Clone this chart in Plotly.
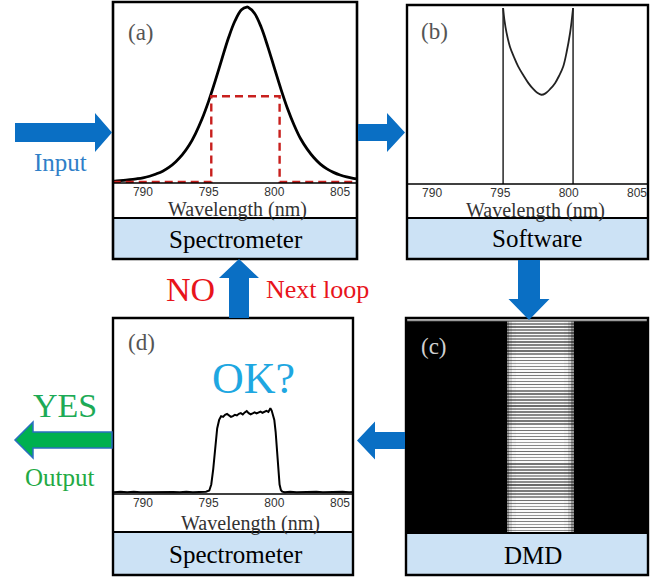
import plotly.graph_objects as go

W, H = 655, 579

# ---------------- data ----------------
tick_vals = [790, 795, 800, 805]
tick_text = ["790", "795", "800", "805"]

# (a) measured input spectrum (normalised)
wl_a = [787.7, 788.0, 788.5, 789.0, 789.5, 790.0, 790.5, 791.0, 791.5, 792.0, 792.5, 793.0,
        793.5, 794.0, 794.5, 795.0, 795.5, 796.0, 796.5, 797.0, 797.5, 797.9, 798.0, 798.5,
        799.0, 799.5, 800.0, 800.5, 801.0, 801.5, 802.0, 802.5, 803.0, 803.5, 804.0, 804.5,
        805.0, 805.5, 806.0, 806.3]
int_a = [0.004, 0.007, 0.009, 0.013, 0.018, 0.024, 0.033, 0.046, 0.062, 0.085, 0.116, 0.156,
         0.208, 0.277, 0.361, 0.462, 0.578, 0.701, 0.821, 0.920, 0.984, 1.0, 0.999, 0.963,
         0.884, 0.774, 0.652, 0.531, 0.420, 0.326, 0.247, 0.188, 0.140, 0.102, 0.075, 0.055,
         0.040, 0.029, 0.021, 0.018]
# (a) target window (dashed)
win_x = [787.7, 795.2, 795.2, 800.4, 800.4, 806.3]
win_y = [0.0, 0.0, 0.49, 0.49, 0.0, 0.0]

# (b) computed DMD transmission
wl_b = [795.2, 795.3, 795.45, 795.7, 796.0, 796.3, 796.7, 797.05, 797.4, 797.7, 798.0,
        798.3, 798.65, 799.0, 799.3, 799.6, 799.85, 800.1, 800.22, 800.32]
tr_b = [1.0, 0.93, 0.86, 0.78, 0.72, 0.668, 0.615, 0.573, 0.54, 0.518, 0.507,
        0.515, 0.54, 0.573, 0.615, 0.668, 0.75, 0.858, 0.93, 1.0]
edge_b = [795.2, 800.32]

# (c) DMD pattern: grey level of the dark lines, white level between them, column profile
dmd_line_gray = [0.55, 0.45, 0.6, 0.5, 0.4, 0.58, 0.52, 0.47, 0.62, 0.5, 0.44, 0.57, 0.53, 0.48,
                 0.6, 0.42, 0.55, 0.5, 0.63, 0.46, 0.52, 0.58, 0.45, 0.5, 0.6, 0.48, 0.43, 0.56,
                 0.52, 0.61, 0.47, 0.5, 0.55, 0.44, 0.59, 0.51, 0.46, 0.6, 0.53, 0.49, 0.57, 0.42,
                 0.55, 0.5, 0.62, 0.47, 0.52, 0.58, 0.45, 0.5, 0.6, 0.48, 0.44, 0.56, 0.53, 0.61,
                 0.46, 0.5, 0.55, 0.43, 0.59, 0.51, 0.47, 0.6, 0.54, 0.49, 0.57, 0.45, 0.55, 0.5]
dmd_white = 0.98
dmd_col_edges = [0, 101, 103, 106, 110, 158, 162, 165, 168, 242]
dmd_col_profile = [0.0, 0.6, 0.85, 0.97, 1.0, 0.97, 0.85, 0.6, 0.0]

# (d) measured shaped spectrum
wl_d = [787.8, 788.3, 788.8, 789.3, 789.8, 790.3, 790.8, 791.3, 791.8, 792.3, 792.8, 793.3,
        793.8, 794.3, 794.8, 795.05, 795.2, 795.35, 795.5, 795.65, 795.8, 795.95, 796.1,
        796.25, 796.4, 796.55, 796.7, 796.85, 797.0, 797.15, 797.3, 797.45, 797.6, 797.75,
        797.9, 798.05, 798.2, 798.35, 798.5, 798.65, 798.8, 798.95, 799.1, 799.25, 799.4,
        799.55, 799.7, 799.8, 799.9, 800.0, 800.1, 800.2, 800.3, 800.4, 800.5, 800.6, 800.8,
        801.2, 801.7, 802.2, 802.7, 803.2, 803.7, 804.2, 804.7, 805.2, 805.7, 806.0]
int_d = [0.005, 0.008, 0.004, 0.007, 0.005, 0.006, 0.004, 0.008, 0.005, 0.006, 0.004, 0.007,
         0.005, 0.006, 0.008, 0.015, 0.05, 0.14, 0.27, 0.38, 0.43, 0.452, 0.448,
         0.46, 0.465, 0.455, 0.448, 0.452, 0.46, 0.456, 0.466, 0.47, 0.462, 0.474,
         0.482, 0.47, 0.463, 0.468, 0.474, 0.468, 0.476, 0.479, 0.472, 0.478, 0.483,
         0.477, 0.498, 0.485, 0.462, 0.43, 0.36, 0.24, 0.12, 0.05, 0.018, 0.008, 0.005,
         0.007, 0.004, 0.006, 0.005, 0.007, 0.004, 0.006, 0.005, 0.007, 0.005, 0.006]

# ---------------- helpers ----------------
def px(x):
    return x / W

def py(y):
    return 1 - y / H

SERIF = "Liberation Serif"
SANS = "Liberation Sans"
BLUE = "#0a6fc4"
BOXFILL = "#cce2f5"

fig = go.Figure()

# (a)
fig.add_trace(go.Scatter(x=wl_a, y=int_a, mode="lines", line=dict(color="black", width=2.8, shape="spline"),
                         xaxis="x", yaxis="y", hoverinfo="skip"))
fig.add_trace(go.Scatter(x=win_x, y=win_y, mode="lines", line=dict(color="#c8201e", width=2.4, dash="8px,5px"),
                         xaxis="x", yaxis="y", hoverinfo="skip"))
# (b)
fig.add_trace(go.Scatter(x=[edge_b[0], edge_b[0], None, edge_b[1], edge_b[1]], y=[0, 1, None, 0, 1],
                         mode="lines", line=dict(color="#333", width=1.6), xaxis="x2", yaxis="y2", hoverinfo="skip"))
fig.add_trace(go.Scatter(x=wl_b, y=tr_b, mode="lines", line=dict(color="#222", width=1.8, shape="spline"),
                         xaxis="x2", yaxis="y2", hoverinfo="skip"))
# (c)
rows = []
for g in dmd_line_gray:
    rows.append(dmd_white)
    rows.append(g)
z = [[r * c for c in dmd_col_profile] for r in rows]
fig.add_trace(go.Heatmap(z=z, x=dmd_col_edges, y=list(range(len(rows) + 1)), showscale=False,
                         colorscale=[[0, "#000000"], [1, "#ffffff"]], zmin=0, zmax=1,
                         xaxis="x3", yaxis="y3", hoverinfo="skip"))
# (d)
fig.add_trace(go.Scatter(x=wl_d, y=int_d, mode="lines", line=dict(color="black", width=2.0),
                         xaxis="x4", yaxis="y4", hoverinfo="skip"))

def xax(domain, rng):
    return dict(domain=[px(domain[0]), px(domain[1])], range=rng, showgrid=False, zeroline=False,
                showline=False, ticks="", tickvals=tick_vals, ticktext=tick_text, ticklabelstandoff=0,
                tickfont=dict(family=SANS, size=12, color="#333"), fixedrange=True)

def yax(domain, rng):
    return dict(domain=[py(domain[1]), py(domain[0])], range=rng, visible=False, fixedrange=True)

layout = dict(
    width=W, height=H, margin=dict(l=0, r=0, t=0, b=0), showlegend=False,
    paper_bgcolor="white", plot_bgcolor="white",
    xaxis=dict(xax((113, 357), [787.72, 806.29]), anchor="y"),
    yaxis=dict(yax((3, 183), [-0.0057, 1.0229]), anchor="x"),
    xaxis2=dict(xax((408, 647), [788.24, 805.73]), anchor="y2"),
    yaxis2=dict(yax((5, 184), [0.0, 1.017]), anchor="x2"),
    xaxis3=dict(domain=[px(407), px(647)], range=[0, 242], visible=False, anchor="y3", fixedrange=True),
    yaxis3=dict(domain=[py(533), py(320)], range=[0, len(rows)], visible=False, anchor="x3", fixedrange=True),
    xaxis4=dict(xax((113, 353), [787.72, 805.99]), anchor="y4"),
    yaxis4=dict(yax((319, 494), [-0.0059, 1.0235]), anchor="x4"),
)
fig.update_layout(**layout)

shapes = []

def rect(x0, y0, x1, y1, fill=None, lw=2.0, color="black"):
    d = dict(type="rect", xref="paper", yref="paper", x0=px(x0), x1=px(x1), y0=py(y1), y1=py(y0),
             line=dict(color=color, width=lw))
    if fill:
        d["fillcolor"] = fill
    shapes.append(d)

def hline(x0, x1, y, lw=1.5, color="black"):
    shapes.append(dict(type="line", xref="paper", yref="paper", x0=px(x0), x1=px(x1), y0=py(y), y1=py(y),
                       line=dict(color=color, width=lw)))

def poly(points, fill, line_color=None, lw=0):
    path = "M " + " L ".join(f"{px(x):.5f},{py(y):.5f}" for x, y in points) + " Z"
    shapes.append(dict(type="path", xref="paper", yref="paper", path=path, fillcolor=fill,
                       line=dict(color=line_color or fill, width=lw)))

def harrow(x_tail, x_base, x_tip, yc, sh, hh, fill, line_color=None, lw=0):
    pts = [(x_tail, yc - sh), (x_base, yc - sh), (x_base, yc - hh), (x_tip, yc), (x_base, yc + hh),
           (x_base, yc + sh), (x_tail, yc + sh)]
    poly(pts, fill, line_color, lw)

def varrow(y_tail, y_base, y_tip, xc, sh, hh, fill):
    pts = [(xc - sh, y_tail), (xc - sh, y_base), (xc - hh, y_base), (xc, y_tip), (xc + hh, y_base),
           (xc + sh, y_base), (xc + sh, y_tail)]
    poly(pts, fill)

# panel (a)
hline(113, 357, 183, 1.5)
rect(113, 218, 357, 259, fill=BOXFILL, lw=2)
rect(113, 2, 357, 259, lw=2.6)
# panel (b)
hline(408, 647, 184, 1.5)
rect(407, 218, 648, 259, fill=BOXFILL, lw=2)
rect(407, 5, 648, 259, lw=2.4)
# panel (c)
hline(407, 647, 320.5, 1.5, "#9a9a9a")
rect(406, 533, 648, 575, fill=BOXFILL, lw=2)
rect(406, 318, 648, 575, lw=2.4)
# panel (d)
hline(113, 353, 494, 1.5)
rect(113, 532, 353, 575, fill=BOXFILL, lw=2)
rect(113, 318, 353, 575, lw=2.4)

# arrows
harrow(15, 95, 112, 132.5, 9.5, 19.5, BLUE)                 # input
harrow(358, 387, 405, 132.5, 8.5, 19.5, BLUE)               # (a) -> (b)
varrow(260, 299, 320, 529, 11, 20.5, BLUE)                  # (b) -> (c)
harrow(405, 375, 357, 440.5, 8.5, 19, BLUE)                 # (c) -> (d)
varrow(318, 278, 259, 239, 10, 20, BLUE)                    # (d) -> (a)
harrow(112, 33, 15, 440, 8, 18, "#00b050", "#2a6fc0", 1.5)  # output

fig.update_layout(shapes=shapes)

ann = []

def text(x, y, s, size, color, family=SERIF):
    ann.append(dict(x=px(x), y=py(y), xref="paper", yref="paper", text=s, showarrow=False,
                    xanchor="center", yanchor="middle", font=dict(family=family, size=size, color=color)))

text(141, 33, "(a)", 23, "#555")
text(434, 31, "(b)", 23, "#555")
text(434, 347, "(c)", 23, "#d0d0d0")
text(141, 342, "(d)", 23, "#555")

text(237, 209.5, "Wavelength (nm)", 20, "#333")
text(535, 210.5, "Wavelength (nm)", 20, "#333")
text(250, 523, "Wavelength (nm)", 20, "#333")

text(236, 239, "Spectrometer", 25, "black")
text(537, 238, "Software", 25, "black")
text(533, 555, "DMD", 25, "black")
text(236, 554, "Spectrometer", 25, "black")

text(253, 378, "OK?", 44, "#1ea7e1")
text(190, 289, "NO", 34, "#e8141b")
text(317, 289, "Next loop", 26, "#e8141b")
text(60, 163, "Input", 25, "#2f7fc8")
text(65, 405, "YES", 34, "#1daa56")
text(60, 477, "Output", 25, "#22aa44")

fig.update_layout(annotations=ann)

fig.write_html("out.html")
